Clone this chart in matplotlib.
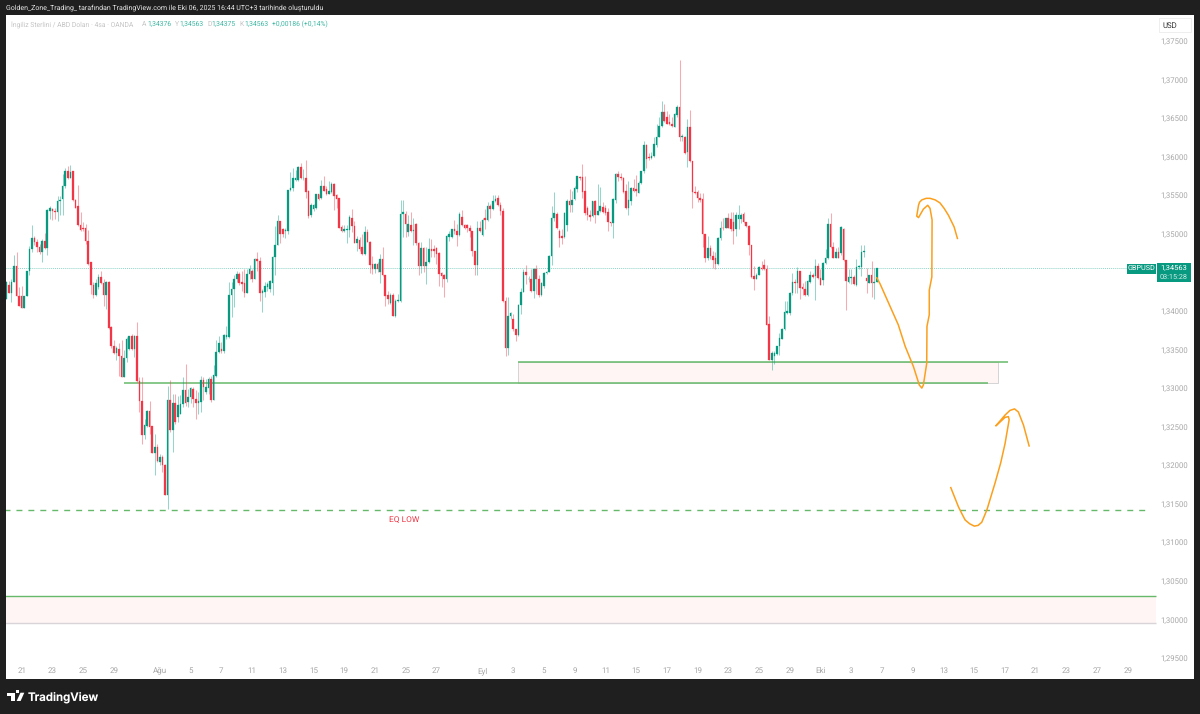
import matplotlib
matplotlib.use("Agg")
import matplotlib.pyplot as plt
from matplotlib.patches import Rectangle, Polygon
import numpy as np

# ==========================
# Data: 4h candles, pips above 1.0 (3456 -> 1,3456)
# ==========================
opens = [
    3416,3433,3423,3437,3458,3420,3419,3404,3419,3452,
    3480,3495,3489,3483,3476,3491,3481,3529,3532,3530,
    3528,3542,3545,3562,3581,3573,3581,3544,3536,3511,
    3508,3507,3491,3463,3433,3421,3431,3444,3436,3421,
    3438,3379,3355,3346,3351,3342,3315,3339,3351,3367,
    3351,3368,3309,3283,3239,3251,3270,3251,3216,3223,
    3204,3211,3200,3161,3285,3245,3280,3262,3267,3279,
    3298,3282,3288,3299,3286,3280,3282,3310,3295,3300,
    3312,3284,3316,3347,3351,3348,3366,3366,3421,3429,
    3441,3448,3437,3436,3423,3448,3452,3442,3467,3465,
    3423,3424,3431,3429,3436,3470,3486,3516,3506,3504,
    3504,3557,3559,3570,3570,3587,3572,3572,3556,3524,
    3532,3533,3551,3546,3562,3558,3552,3554,3565,3550,
    3546,3509,3503,3505,3505,3520,3510,3488,3492,3483,
    3474,3502,3490,3461,3455,3461,3451,3467,3447,3421,
    3410,3421,3394,3413,3413,3526,3526,3502,3511,3503,
    3513,3488,3458,3482,3458,3463,3480,3480,3481,3475,
    3449,3446,3442,3496,3496,3506,3504,3499,3522,3511,
    3511,3508,3503,3478,3460,3508,3498,3521,3518,3536,
    3532,3542,3546,3537,3529,3413,3352,3393,3389,3376,
    3369,3408,3425,3450,3441,3442,3426,3454,3441,3421,
    3432,3449,3451,3471,3521,3526,3504,3497,3496,3512,
    3543,3538,3545,3558,3574,3574,3555,3534,3525,3523,
    3543,3525,3530,3535,3534,3528,3515,3514,3544,3577,
    3574,3573,3556,3533,3543,3560,3558,3553,3566,3581,
    3615,3599,3598,3601,3615,3626,3640,3658,3652,3645,
    3642,3639,3654,3665,3625,3626,3606,3639,3595,3554,
    3554,3547,3545,3500,3468,3482,3471,3468,3461,3495,
    3508,3508,3520,3519,3515,3506,3519,3519,3526,3515,
    3510,3486,3445,3442,3447,3456,3460,3454,3383,3336,
    3342,3344,3354,3364,3376,3397,3397,3423,3437,3436,
    3452,3431,3429,3421,3437,3446,3445,3458,3443,3440,
    3462,3468,3513,3483,3469,3477,3475,3506,3466,3438,
    3443,3444,3433,3457,3457,3477,3443,3436,3446,3436,
    3438,
]
highs = [
    3439,3439,3442,3473,3476,3431,3432,3420,3452,3484,
    3511,3497,3493,3487,3493,3501,3532,3536,3534,3533,
    3549,3549,3578,3585,3588,3589,3582,3545,3563,3528,
    3515,3513,3505,3464,3437,3442,3448,3452,3442,3439,
    3439,3381,3362,3355,3359,3362,3349,3366,3367,3370,
    3369,3386,3314,3314,3260,3271,3283,3251,3241,3228,
    3215,3213,3202,3303,3310,3292,3292,3290,3291,3314,
    3331,3299,3302,3301,3297,3295,3316,3315,3312,3314,
    3316,3330,3362,3368,3360,3370,3381,3437,3437,3447,
    3452,3451,3452,3454,3454,3459,3454,3468,3477,3470,
    3428,3437,3438,3440,3471,3510,3524,3517,3507,3507,
    3557,3580,3585,3583,3588,3592,3584,3596,3557,3540,
    3539,3552,3552,3570,3575,3562,3568,3567,3566,3552,
    3546,3511,3511,3511,3524,3532,3517,3497,3496,3500,
    3510,3506,3491,3471,3462,3464,3474,3483,3447,3426,
    3423,3423,3416,3422,3544,3544,3529,3524,3528,3521,
    3514,3490,3489,3483,3483,3494,3493,3485,3483,3476,
    3451,3448,3498,3503,3506,3518,3513,3528,3531,3513,
    3513,3511,3504,3478,3517,3516,3521,3532,3541,3539,
    3550,3550,3550,3541,3534,3418,3418,3398,3396,3377,
    3409,3430,3454,3459,3445,3454,3456,3459,3446,3437,
    3450,3452,3472,3536,3554,3528,3506,3506,3528,3545,
    3558,3556,3562,3575,3575,3590,3575,3536,3531,3543,
    3544,3565,3561,3541,3538,3533,3515,3546,3579,3582,
    3579,3574,3564,3569,3561,3571,3576,3569,3582,3620,
    3617,3605,3606,3626,3642,3651,3672,3668,3659,3655,
    3651,3656,3667,3726,3629,3627,3649,3661,3595,3562,
    3557,3553,3553,3500,3497,3485,3478,3477,3496,3516,
    3520,3520,3527,3528,3528,3528,3537,3527,3528,3515,
    3511,3486,3458,3449,3458,3465,3467,3459,3394,3348,
    3348,3355,3372,3378,3413,3413,3424,3449,3441,3457,
    3452,3436,3439,3440,3452,3449,3467,3462,3454,3463,
    3480,3521,3527,3489,3482,3483,3510,3508,3466,3455,
    3454,3446,3467,3459,3485,3486,3456,3447,3465,3456,
    3456,
]
lows = [
    3416,3423,3411,3437,3419,3407,3404,3404,3419,3446,
    3476,3485,3476,3474,3463,3480,3472,3519,3518,3519,
    3516,3524,3524,3560,3571,3573,3543,3533,3510,3504,
    3504,3487,3460,3422,3417,3420,3429,3435,3407,3403,
    3377,3352,3344,3337,3316,3315,3314,3334,3349,3349,
    3340,3308,3269,3228,3234,3249,3241,3216,3187,3204,
    3200,3191,3161,3143,3243,3217,3254,3256,3267,3275,
    3277,3275,3280,3275,3260,3267,3269,3284,3292,3292,
    3282,3284,3314,3346,3346,3346,3364,3365,3392,3405,
    3437,3434,3426,3418,3423,3442,3438,3441,3452,3413,
    3399,3418,3426,3425,3421,3447,3485,3488,3496,3494,
    3500,3556,3556,3569,3569,3571,3570,3547,3521,3522,
    3530,3532,3544,3545,3555,3550,3551,3553,3531,3534,
    3507,3502,3502,3488,3496,3502,3488,3478,3478,3473,
    3473,3489,3449,3448,3449,3450,3436,3445,3407,3409,
    3409,3393,3392,3412,3412,3496,3496,3497,3502,3485,
    3485,3446,3449,3451,3435,3462,3470,3470,3461,3432,
    3431,3418,3437,3491,3494,3500,3484,3497,3510,3506,
    3502,3496,3471,3447,3447,3502,3497,3506,3517,3521,
    3531,3541,3536,3524,3412,3341,3343,3389,3374,3361,
    3368,3396,3424,3435,3437,3425,3417,3422,3418,3420,
    3430,3448,3450,3459,3517,3506,3483,3487,3495,3503,
    3528,3528,3544,3554,3570,3547,3525,3518,3517,3522,
    3514,3524,3528,3527,3525,3504,3510,3494,3540,3569,
    3570,3553,3532,3525,3538,3554,3549,3553,3564,3579,
    3585,3596,3597,3600,3613,3625,3639,3645,3642,3641,
    3639,3639,3652,3620,3620,3604,3586,3593,3534,3551,
    3541,3541,3483,3463,3466,3467,3456,3454,3459,3492,
    3505,3507,3507,3504,3487,3497,3506,3514,3514,3509,
    3473,3443,3427,3442,3446,3453,3453,3382,3336,3324,
    3331,3343,3343,3363,3375,3396,3395,3421,3423,3423,
    3415,3421,3420,3420,3436,3443,3414,3442,3433,3434,
    3461,3467,3482,3468,3468,3468,3473,3465,3401,3436,
    3435,3434,3432,3454,3445,3470,3423,3436,3418,3416,
    3437,
]
closes = [
    3438,3423,3437,3458,3419,3407,3404,3419,3452,3480,
    3495,3490,3483,3476,3491,3481,3531,3534,3529,3528,
    3542,3544,3562,3581,3573,3580,3544,3534,3511,3505,
    3506,3491,3461,3433,3421,3436,3444,3436,3421,3438,
    3378,3354,3346,3352,3341,3315,3339,3364,3367,3351,
    3368,3309,3283,3239,3252,3270,3249,3216,3223,3205,
    3210,3200,3161,3285,3245,3280,3256,3278,3279,3298,
    3280,3288,3300,3286,3280,3283,3310,3301,3301,3312,
    3284,3317,3347,3359,3348,3369,3369,3421,3429,3441,
    3448,3436,3435,3423,3448,3454,3442,3467,3465,3423,
    3426,3432,3435,3439,3470,3486,3516,3500,3500,3505,
    3557,3560,3573,3572,3587,3573,3573,3554,3523,3537,
    3537,3551,3545,3562,3556,3551,3555,3565,3549,3545,
    3508,3503,3506,3506,3522,3510,3488,3493,3480,3474,
    3502,3490,3460,3455,3461,3455,3467,3446,3419,3416,
    3421,3394,3413,3414,3526,3528,3513,3513,3503,3505,
    3488,3458,3482,3458,3463,3480,3478,3478,3474,3448,
    3445,3442,3497,3500,3506,3503,3499,3526,3511,3508,
    3507,3503,3478,3460,3508,3504,3518,3518,3536,3532,
    3542,3545,3537,3529,3413,3352,3393,3397,3376,3369,
    3408,3425,3450,3446,3442,3426,3454,3441,3421,3436,
    3449,3451,3471,3521,3527,3507,3495,3495,3527,3543,
    3538,3544,3560,3575,3573,3554,3527,3525,3522,3542,
    3525,3530,3536,3528,3527,3515,3514,3545,3578,3574,
    3573,3554,3533,3544,3560,3556,3556,3566,3581,3615,
    3597,3598,3601,3616,3626,3640,3658,3646,3643,3642,
    3640,3655,3665,3625,3627,3605,3639,3595,3554,3553,
    3547,3544,3500,3468,3482,3471,3466,3461,3495,3508,
    3507,3520,3508,3506,3504,3525,3525,3525,3515,3510,
    3486,3444,3442,3447,3457,3454,3454,3382,3337,3346,
    3346,3354,3365,3377,3398,3400,3423,3437,3436,3452,
    3430,3428,3421,3439,3446,3444,3458,3443,3434,3462,
    3468,3513,3483,3469,3477,3469,3509,3466,3439,3444,
    3444,3435,3457,3458,3477,3478,3439,3446,3436,3437,
    3456,
]

# time axis: bar index of each date label
date_bars = [6,18,30,42,60,72,84,96,108,120,132,144,156,168,186,198,210,222,
             234,246,258,270,282,294,306,318,330,342,354,366,378,390,402,414,426,438]
date_labels = ["21","23","25","29","Ağu","5","7","11","13","15","19","21","25","27",
               "Eyl","3","5","9","11","15","17","19","23","25","29","Eki","3","7",
               "9","13","15","17","21","23","27","29"]
price_ticks = [1.295,1.300,1.305,1.310,1.315,1.320,1.325,1.330,1.335,1.340,
               1.345,1.350,1.355,1.360,1.365,1.370,1.375]

last_price = 1.34563

# hand drawn arrows: bar index, pips
arrow1_x = [340,341.3,348.4,351.1,354.3,356.6,357.6,358.2,359.5,359.6,360.5,360.5,361.5,
            361.6,360.8,359.9,358.2,356.3,355.6,356.3,356.7,357.6,359.3,360.8,362.8,364.7,
            366.3,368,370.2,371.5]
arrow1_y = [3443,3435,3382,3354,3328,3304,3300,3304,3332,3380,3395,3427,3444,
            3518,3533,3537,3532,3521,3523,3537,3541,3544,3546,3546,3544,3540,
            3533,3524,3509,3494]
arrow2_x = [368.9,371.9,373.1,374.5,376.3,378.1,379.6,381,383,386.2,388.4,390.1,391.7,391.4,
            390.1,386.5,390.1,392,393.8,395.3,397.3,399.5]
arrow2_y = [3171,3146,3138,3129,3124,3121,3122,3126,3142,3177,3203,3228,3259,3263,
            3262,3251,3265,3271,3273,3269,3252,3225]

UP = "#089981"
DOWN = "#f23645"
GREEN_LINE = "#66b96a"
ZONE = "#fff5f5"
ORANGE = "#fb9f1c"
DARK = "#1f1f1f"
GREY = "#a8a8a8"

plt.rcParams["font.family"] = ["Roboto", "DejaVu Sans"]
plt.rcParams["text.hinting"] = "no_hinting"
W, H = 1200, 714


def fx(px):
    return px / W


def fy(py):
    return 1 - py / H


fig = plt.figure(figsize=(W / 100, H / 100), dpi=100, facecolor=DARK)
ax = fig.add_axes([6 / W, (H - 679) / H, 1188 / W, 664 / H])
for s in ax.spines.values():
    s.set_visible(False)

to_price = lambda v: 1 + np.asarray(v, dtype=float) / 1e4
o, h, l, c = map(to_price, (opens, highs, lows, closes))
bars = np.arange(len(o))
is_up = c >= o
colors = np.where(is_up, UP, DOWN)

# zones and levels
ax.add_patch(Rectangle((200, 1.3307), 187.4, 1.33332 - 1.3307, fc=ZONE, ec="#d4d4d4", lw=0.7, zorder=1))
ax.add_patch(Rectangle((-1, 1.29948), 450, 1.30298 - 1.29948, fc=ZONE, ec="none", zorder=1))
ax.hlines(1.29948, -1, 449, color="#d8d4d8", lw=1, zorder=2)
ax.hlines(1.30298, -1, 449, color=GREEN_LINE, lw=1, zorder=2)
ax.hlines(1.33332, 200, 391.3, color=GREEN_LINE, lw=1.1, zorder=2)
ax.hlines(1.3307, 46, 383.5, color=GREEN_LINE, lw=1.1, zorder=2)
ax.plot([-1, 446.8], [1.31419, 1.31419], color=GREEN_LINE, lw=1, ls=(0, (4.3, 4.3)), zorder=2)
ax.plot([-1, 437.8], [last_price, last_price], color="#8fd4c8", lw=0.7, ls=(0, (1, 1)), zorder=1.5)

# candles
ax.vlines(bars, l, h, colors=colors, lw=0.75, alpha=0.42, zorder=3)
ax.bar(bars, np.abs(c - o), bottom=np.minimum(o, c), width=0.62, color=colors,
       edgecolor=colors, linewidth=0.2, zorder=4)

ax.plot(arrow1_x, to_price(arrow1_y), color=ORANGE, lw=1.1, zorder=5, solid_joinstyle="round")
ax.plot(arrow2_x, to_price(arrow2_y), color=ORANGE, lw=1.1, zorder=5, solid_joinstyle="round")

ax.text(155.5, 1.31335, "EQ LOW", color=DOWN, fontsize=6, ha="center", va="top", zorder=6)

ax.set_facecolor("white")
ax.set_xlim(-0.12, 463.9)
ax.set_ylim(1.29228, 1.37837)
ax.set_xticks(date_bars, date_labels)
ax.set_yticks(price_ticks, [f"{p:.5f}".replace(".", ",") for p in price_ticks])
ax.yaxis.tick_right()
ax.tick_params(axis="x", length=0, pad=-8.5, labelsize=5.8, labelcolor=GREY)
ax.tick_params(axis="y", length=0, pad=-24, labelsize=5.6, labelcolor=GREY)

# price labels on the right
fig.add_artist(Rectangle((fx(1127), fy(273.5)), 29 / W, 10 / H, transform=fig.transFigure, fc=UP, ec="none"))
fig.text(fx(1141.5), fy(268.5), "GBPUSD", color="white", fontsize=5.2, ha="center", va="center")
fig.add_artist(Rectangle((fx(1157), fy(282)), 34 / W, 18.5 / H, transform=fig.transFigure, fc=UP, ec="none"))
fig.text(fx(1174), fy(267.8), "1,34563", color="white", fontsize=5.4, ha="center", va="center")
fig.text(fx(1174), fy(277), "03:15:28", color="#d6efe9", fontsize=5.2, ha="center", va="center")
fig.add_artist(Rectangle((fx(1159), fy(32)), 32 / W, 14 / H, transform=fig.transFigure, fc="white", ec="#eeeeee", lw=0.7))
fig.text(fx(1170), fy(25.5), "USD", color="#333333", fontsize=5.6, ha="center", va="center")

# header texts
fig.text(fx(5.5), fy(8), "Golden_Zone_Trading_ tarafından TradingView.com ile Eki 06, 2025 16:44 UTC+3 tarihinde oluşturuldu",
         color="#e6e6e6", fontsize=5.03, va="center")
fig.text(fx(11), fy(24), "İngiliz Sterlini / ABD Doları · 4sa · OANDA", color="#c4c4c4", fontsize=4.9, va="center")
for px, lab in [(142, "A"), (175, "Y"), (207, "D"), (239, "K")]:
    fig.text(fx(px), fy(24), lab, color="#c4c4c4", fontsize=4.9, va="center")
for px, val in [(147, "1,34376"), (179.5, "1,34563"), (211.5, "1,34375"), (244.5, "1,34563"), (272, "+0,00186 (+0,14%)")]:
    fig.text(fx(px), fy(24), val, color="#3fb8a2", fontsize=4.9, va="center")

# TradingView logo
fig.add_artist(Polygon([(fx(7), fy(692.7)), (fx(15), fy(692.7)), (fx(15), fy(701)), (fx(11), fy(701)),
                        (fx(11), fy(696)), (fx(7), fy(696))], transform=fig.transFigure, fc="white", ec="none"))
fig.add_artist(Polygon([(fx(20.5), fy(692.7)), (fx(24.3), fy(692.7)), (fx(20.6), fy(701)), (fx(16.6), fy(701))],
                       transform=fig.transFigure, fc="white", ec="none"))
fig.add_artist(Rectangle((fx(16.3), fy(693)), 3 / W, 3 / H, transform=fig.transFigure, fc="white", ec="none"))
fig.text(fx(28), fy(697), "TradingView", color="white", fontsize=8.3, fontweight="semibold",
         family=["Inter", "DejaVu Sans"], va="center")

fig.savefig("out.png", dpi=100, facecolor=DARK)
